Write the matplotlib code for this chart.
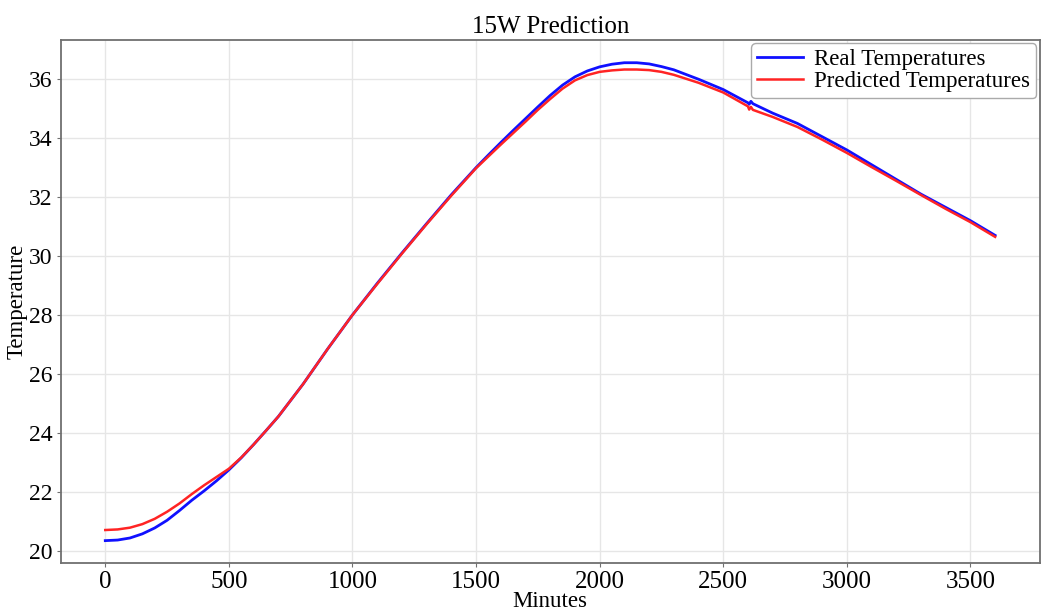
import matplotlib
matplotlib.use("Agg")
import matplotlib.pyplot as plt

minutes = [0, 50, 100, 150, 200, 250, 300, 350, 400, 450, 500, 550, 600, 650,
           700, 800, 900, 1000, 1100, 1200, 1300, 1400, 1500, 1550, 1600, 1650,
           1700, 1750, 1800, 1850, 1900, 1950, 2000, 2050, 2100, 2150, 2200,
           2250, 2300, 2400, 2500, 2600, 2605, 2612, 2620, 2700, 2800, 2900,
           3000, 3100, 3200, 3300, 3400, 3500, 3600]

real_temps = [20.34, 20.36, 20.43, 20.57, 20.77, 21.03, 21.36, 21.71, 22.03,
              22.37, 22.74, 23.15, 23.60, 24.07, 24.55, 25.65, 26.85, 28.00,
              29.07, 30.10, 31.10, 32.08, 33.00, 33.43, 33.85, 34.26, 34.66,
              35.06, 35.45, 35.80, 36.08, 36.28, 36.42, 36.51, 36.56, 36.56,
              36.52, 36.43, 36.32, 36.00, 35.65, 35.20, 35.15, 35.25, 35.17,
              34.85, 34.50, 34.05, 33.60, 33.10, 32.60, 32.10, 31.65, 31.20,
              30.70]

pred_temps = [20.70, 20.72, 20.78, 20.90, 21.08, 21.32, 21.60, 21.92, 22.22,
              22.50, 22.78, 23.16, 23.60, 24.07, 24.55, 25.65, 26.85, 28.00,
              29.05, 30.08, 31.08, 32.05, 32.98, 33.38, 33.78, 34.17, 34.56,
              34.96, 35.33, 35.68, 35.96, 36.14, 36.25, 36.30, 36.33, 36.33,
              36.31, 36.25, 36.15, 35.88, 35.55, 35.08, 34.97, 35.06, 34.96,
              34.72, 34.38, 33.95, 33.50, 33.02, 32.55, 32.07, 31.60, 31.15,
              30.65]

plt.rcParams["font.family"] = ["Liberation Serif", "DejaVu Serif"]

fig = plt.figure(figsize=(10.48, 6.16), dpi=100)
ax = fig.add_axes([0.058, 0.086, 0.934, 0.849])

ax.plot(minutes, real_temps, color="#1010ff", lw=2.0, label="Real Temperatures")
ax.plot(minutes, pred_temps, color="#ff2424", lw=1.8, label="Predicted Temperatures")

ax.set_xlim(-180, 3780)
ax.set_ylim(19.58, 37.33)
ax.set_xticks([0, 500, 1000, 1500, 2000, 2500, 3000, 3500])
ax.set_yticks([20, 22, 24, 26, 28, 30, 32, 34, 36])

ax.grid(True, color="#e6e6e6", lw=1.0)
ax.set_axisbelow(True)
for s in ax.spines.values():
    s.set_color("#707070")
    s.set_linewidth(1.3)
ax.tick_params(axis="x", labelsize=18, length=3, color="#707070", pad=3)
ax.tick_params(axis="y", labelsize=17, length=3, color="#707070", pad=3)

ax.set_title("15W Prediction", fontsize=18, pad=5)
ax.set_xlabel("Minutes", fontsize=16.5, labelpad=-2)
ax.set_ylabel("Temperature", fontsize=16.5, labelpad=1)

leg = ax.legend(loc="upper right", fontsize=16.5, borderaxespad=0.15,
                handlelength=2.0, handletextpad=0.5, borderpad=0.25,
                labelspacing=0.05, fancybox=True, edgecolor="#aaaaaa",
                framealpha=1.0)

fig.savefig("out.png", dpi=100)
